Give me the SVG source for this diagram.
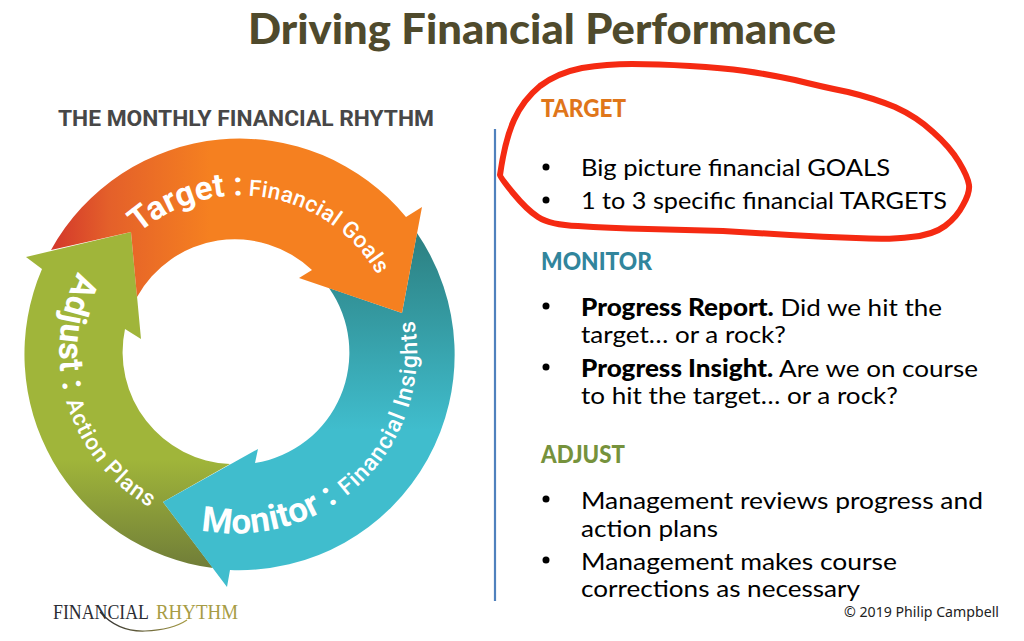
<svg xmlns="http://www.w3.org/2000/svg" xmlns:xlink="http://www.w3.org/1999/xlink" width="1024" height="641" viewBox="0 0 1024 641">
<style>
.rb{font-family:"Roboto","Liberation Sans",sans-serif;fill:#fff;font-weight:700}
.rm{font-weight:500}
.t{font-family:"Lato","Carlito","Open Sans",sans-serif;font-size:24px;fill:#000}
.h{font-family:"Lato","Carlito","Open Sans",sans-serif;font-size:25px;font-weight:900}
.logo{font-family:"Liberation Serif",serif;font-size:20px}
</style>
<defs>
<linearGradient id="go" gradientUnits="userSpaceOnUse" x1="55" y1="250" x2="210" y2="250"><stop offset="0" stop-color="#d43a2b"/><stop offset="0.35" stop-color="#e4602a"/><stop offset="1" stop-color="#f58020"/></linearGradient>
<linearGradient id="gt" gradientUnits="userSpaceOnUse" x1="0" y1="233" x2="0" y2="430"><stop offset="0" stop-color="#2c7f80"/><stop offset="1" stop-color="#40bdcd"/></linearGradient>
<linearGradient id="gg" gradientUnits="userSpaceOnUse" x1="0" y1="460" x2="0" y2="570"><stop offset="0" stop-color="#a0b53a"/><stop offset="1" stop-color="#6f7c38"/></linearGradient>
<linearGradient id="gs" gradientUnits="userSpaceOnUse" x1="100" y1="0" x2="187" y2="0"><stop offset="0" stop-color="#2c2c33"/><stop offset="1" stop-color="#a79c45"/></linearGradient>
<path id="pt" d="M139 233A157 157 0 0 1 392 310"/>
<path id="pm" d="M201 530A181 181 0 0 0 412 310"/>
<path id="pa" d="M78 272A179 179 0 0 0 165 515"/>
</defs>
<text id="title" x="248" y="43.500" font-family="Lato,Carlito,sans-serif" font-size="42" font-weight="900" fill="#4f4a2c" textLength="588" lengthAdjust="spacingAndGlyphs">Driving Financial Performance</text>
<text id="subtitle" x="58" y="126" font-family="Roboto,sans-serif" font-size="22" font-weight="700" fill="#474747" textLength="376" lengthAdjust="spacingAndGlyphs">THE MONTHLY FINANCIAL RHYTHM</text>
<g id="node-adjust">
<path fill="url(#gg)" d="M213 568A215.500 215.500 0 0 1 42 269L26 257L131 232L141 339L125 329A112 112 0 0 0 230 464L163 502Z"/>
<text class="rb" font-size="34" letter-spacing="0.800"><textPath xlink:href="#pa" href="#pa">Adjust : <tspan class="rm" font-size="22.500" letter-spacing="1">Action Plans</tspan></textPath></text>
</g>
<g id="node-monitor">
<path fill="url(#gt)" d="M417 233A215.500 215.500 0 0 1 230 570L227 587L163 502L258 449L255 463A112 112 0 0 0 329 288L402 313Z"/>
<text class="rb" font-size="35" letter-spacing="0.300"><textPath xlink:href="#pm" href="#pm">Monitor : <tspan class="rm" font-size="23" letter-spacing="1">Financial Insights</tspan></textPath></text>
</g>
<g id="node-target">
<path fill="url(#go)" d="M51 250A215.500 215.500 0 0 1 406 217L422 207L402 313L299 278L312 270A112 112 0 0 0 137 297L131 232Z"/>
<text class="rb" font-size="33"><textPath xlink:href="#pt" href="#pt">Target : <tspan class="rm" font-size="22.500" dx="-3" letter-spacing="0.300">Financial Goals</tspan></textPath></text>
</g>
<g id="connectors">
<line x1="495" y1="129" x2="495" y2="601" stroke="#4f81bd" stroke-width="2.200"/>
<path fill="none" stroke="#f52a12" stroke-width="6" stroke-linejoin="round" d="M500 175Q505 140 514 120Q523 100 540 86Q557 73 582 68Q607 64 632 64Q657 64 690 66Q723 68 745 71Q767 74 795 80Q823 87 848 92Q873 98 895 107Q917 117 933 132Q950 147 959 162Q968 177 969 185Q970 193 963 205Q957 217 945 226Q933 235 911 237Q890 240 856 238Q823 237 790 235Q757 233 723 231Q690 230 648 229Q607 228 578 226Q550 225 538 217Q527 210 513 193Q500 177 500 175Z"/>
</g>
<g id="panel-target">
<text class="h" x="541" y="117" fill="#e0761a" textLength="85" lengthAdjust="spacingAndGlyphs">TARGET</text>
<circle cx="546" cy="167" r="3.500"/><circle cx="546" cy="200" r="3.500"/>
<text class="t" x="581" y="176" textLength="309" lengthAdjust="spacingAndGlyphs">Big picture financial GOALS</text>
<text class="t" x="581" y="209" textLength="366" lengthAdjust="spacingAndGlyphs">1 to 3 specific financial TARGETS</text>
</g>
<g id="panel-monitor">
<text class="h" x="541" y="270" fill="#31859c" textLength="111" lengthAdjust="spacingAndGlyphs">MONITOR</text>
<circle cx="546" cy="306" r="3.500"/><circle cx="546" cy="367" r="3.500"/>
<text class="t" x="581" y="316" textLength="361" lengthAdjust="spacingAndGlyphs"><tspan font-weight="900">Progress Report.</tspan> Did we hit the</text>
<text class="t" x="581" y="343" textLength="205" lengthAdjust="spacingAndGlyphs">target… or a rock?</text>
<text class="t" x="581" y="377" textLength="397" lengthAdjust="spacingAndGlyphs"><tspan font-weight="900">Progress Insight.</tspan> Are we on course</text>
<text class="t" x="581" y="403.500" textLength="317" lengthAdjust="spacingAndGlyphs">to hit the target… or a rock?</text>
</g>
<g id="panel-adjust">
<text class="h" x="541" y="463" fill="#76923c" textLength="84" lengthAdjust="spacingAndGlyphs">ADJUST</text>
<circle cx="546" cy="499" r="3.500"/><circle cx="546" cy="560" r="3.500"/>
<text class="t" x="581" y="509" textLength="402" lengthAdjust="spacingAndGlyphs">Management reviews progress and</text>
<text class="t" x="581" y="537" textLength="137" lengthAdjust="spacingAndGlyphs">action plans</text>
<text class="t" x="581" y="570" textLength="316" lengthAdjust="spacingAndGlyphs">Management makes course</text>
<text class="t" x="581" y="597" textLength="279" lengthAdjust="spacingAndGlyphs">corrections as necessary</text>
</g>
<text id="copyright" x="844" y="617" font-family="'Noto Sans',sans-serif" font-size="14" fill="#222" textLength="155" lengthAdjust="spacingAndGlyphs">© 2019 Philip Campbell</text>
<g id="logo">
<text class="logo" x="53" y="619" fill="#2c2c33" textLength="96" lengthAdjust="spacingAndGlyphs">FINANCIAL</text>
<text class="logo" x="156" y="619" fill="#a79c45" textLength="82" lengthAdjust="spacingAndGlyphs">RHYTHM</text>
<path fill="none" stroke="url(#gs)" stroke-width="1.200" d="M100 612Q118 632 145 631Q172 630 187 620"/>
</g>
</svg>
